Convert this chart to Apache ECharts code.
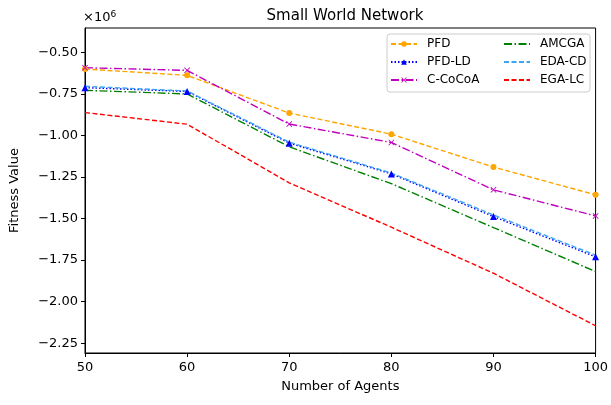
<!DOCTYPE html>
<html>
<head>
<meta charset="utf-8">
<script src="https://cdn.jsdelivr.net/npm/echarts@6/dist/echarts.min.js"></script>
<style>
  html, body { margin: 0; padding: 0; background: #fff; }
  #chart { width: 611px; height: 405px; }
</style>
</head>
<body>
<div id="chart"></div>
<script>
// ------------------------------------------------------- //
// Data (fitness values)
// ------------------------------------------------------ //
var agents = [50, 60, 70, 80, 90, 100];
var pfd    = [-600000, -638000, -865000, -992000, -1190000, -1357000];
var pfdLd  = [-712000, -735000, -1046000, -1231000, -1488000, -1730000];
var cCocoa = [-592000, -608000, -931000, -1042000, -1327000, -1484000];
var amcga  = [-728000, -750000, -1068000, -1290000, -1554000, -1819000];
var edaCd  = [-704000, -732000, -1040000, -1226000, -1478000, -1720000];
var egaLc  = [-862000, -932000, -1285000, -1552000, -1829000, -2145000];
var yTicks = [-2250000, -2000000, -1750000, -1500000, -1250000, -1000000, -750000, -500000];

var font = 'DejaVu Sans';
var xMark = 'path://M0,1 L1,0 L5,4 L9,0 L10,1 L6,5 L10,9 L9,10 L5,6 L1,10 L0,9 L4,5 Z';

function pts(vals) {
    return agents.map(function (a, i) { return [a, vals[i]]; });
}

function mkSeries(name, vals, color, dash, symbol, size) {
    return {
        name: name,
        type: 'line',
        data: pts(vals),
        color: color,
        symbol: symbol || 'none',
        symbolSize: size || 0,
        showSymbol: !!symbol,
        lineStyle: { color: color, width: 1.4, type: dash },
        itemStyle: { color: color },
        emphasis: { disabled: true },
        z: 2
    };
}

function mkLegend(left, names) {
    return {
        orient: 'vertical',
        left: left, top: 34,
        padding: [4, 6, 4, 6],
        itemGap: 6,
        itemWidth: 26, itemHeight: 7,
        textStyle: { fontFamily: font, fontSize: 12, color: '#000', padding: [0, 0, 0, 5] },
        data: names
    };
}

var noMark = { opacity: 0 };

var chart = echarts.init(document.getElementById('chart'));
var option = {
    animation: false,
    title: {
        text: 'Small World Network',
        left: 340, top: 4, textAlign: 'center',
        textStyle: { fontFamily: font, fontSize: 15, fontWeight: 'normal', color: '#000' }
    },
    graphic: [{
        type: 'text', left: 83, top: 10,
        style: {
            text: '×10{s|6}',
            fontFamily: font, fontSize: 13, fill: '#000',
            rich: { s: { fontFamily: font, fontSize: 9, verticalAlign: 'top', padding: [0, 0, 6, 0] } }
        }
    }, {
        type: 'rect', z: 3,
        shape: { x: 387, y: 34, width: 203, height: 58, r: 3 },
        style: { fill: 'rgba(255,255,255,0.8)', stroke: '#cccccc', lineWidth: 1 }
    }],
    legend: [
        mkLegend(384, ['PFD', 'PFD-LD', 'C-CoCoA']),
        mkLegend(497, [
            { name: 'AMCGA', itemStyle: noMark },
            { name: 'EDA-CD', itemStyle: noMark },
            { name: 'EGA-LC', itemStyle: noMark }
        ])
    ],
    grid: {
        left: 83, right: 14, top: 28, bottom: 52,
        show: true, borderColor: '#000', borderWidth: 1
    },
    xAxis: {
        type: 'value',
        min: 50, max: 100, interval: 10,
        name: 'Number of Agents',
        nameLocation: 'middle', nameGap: 27,
        nameTextStyle: { fontFamily: font, fontSize: 13, color: '#000' },
        axisLine: { lineStyle: { color: '#000' } },
        axisTick: { length: 4, lineStyle: { color: '#000' } },
        axisLabel: { fontFamily: font, fontSize: 13, color: '#000', margin: 8 },
        splitLine: { show: false }
    },
    yAxis: {
        type: 'value',
        min: -2309000, max: -353000,
        name: 'Fitness Value',
        nameLocation: 'middle', nameGap: 64,
        nameTextStyle: { fontFamily: font, fontSize: 13, color: '#000' },
        axisLine: { show: true, lineStyle: { color: '#000' } },
        axisTick: { show: true, length: 4, customValues: yTicks, lineStyle: { color: '#000' } },
        axisLabel: {
            fontFamily: font, fontSize: 13, color: '#000', margin: 7,
            customValues: yTicks,
            formatter: function (v) { return (v / 1e6).toFixed(2).replace('-', '\u2212'); }
        },
        splitLine: { show: false }
    },
    series: [
        mkSeries('PFD', pfd, '#ffa500', [5, 2.5], 'circle', 6),
        mkSeries('PFD-LD', pfdLd, '#0000ff', [1.5, 2], 'triangle', 7),
        mkSeries('C-CoCoA', cCocoa, '#bf00bf', [8, 2.5, 1.5, 2.5], xMark, 6),
        mkSeries('AMCGA', amcga, '#008000', [8, 2.5, 1.5, 2.5]),
        mkSeries('EDA-CD', edaCd, '#3ca6f5', [5, 2.5]),
        mkSeries('EGA-LC', egaLc, '#ff0000', [5, 2.5])
    ]
};
chart.setOption(option);
</script>
</body>
</html>
